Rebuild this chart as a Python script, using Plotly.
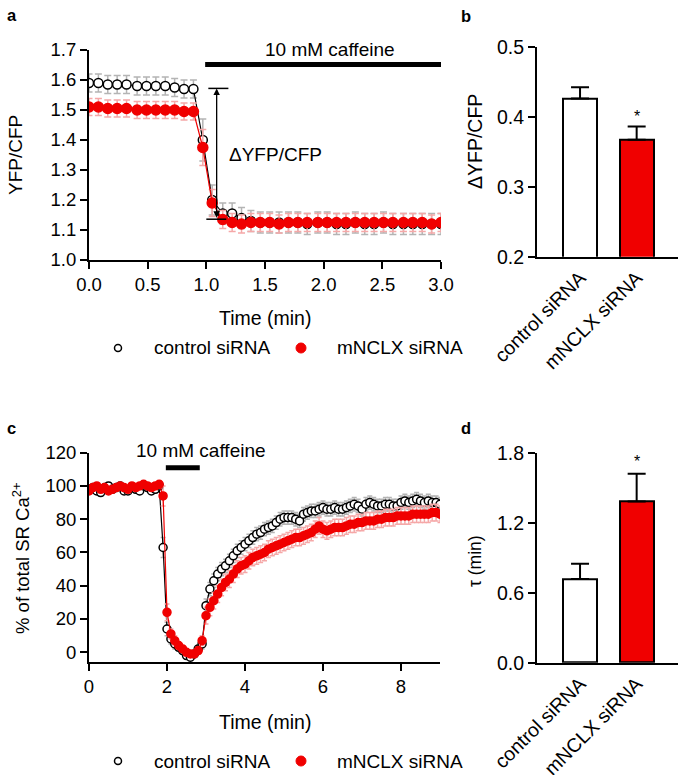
import plotly.graph_objects as go

W, H = 685, 775
FONT = "Arial, Liberation Sans, sans-serif"
RED = "#f00000"
GRAY_ERR = "#b4b4b4"
PINK_ERR = "#f5a8a8"

# ---------------- data: panel a ----------------
time_a = [0.00, 0.08, 0.16, 0.24, 0.32, 0.41, 0.49, 0.57, 0.65, 0.73, 0.81, 0.89,
          0.97, 1.05, 1.14, 1.22, 1.30, 1.38, 1.46, 1.54, 1.62, 1.70, 1.78, 1.86,
          1.95, 2.03, 2.11, 2.19, 2.27, 2.35, 2.43, 2.51, 2.59, 2.68, 2.76, 2.84,
          2.92, 3.00]
ctrl_a = [1.59, 1.59, 1.585, 1.585, 1.585, 1.58, 1.58, 1.58, 1.58, 1.575, 1.57, 1.57,
          1.40, 1.20, 1.155, 1.155, 1.14, 1.13, 1.125, 1.125, 1.125, 1.125, 1.125, 1.12,
          1.125, 1.125, 1.12, 1.12, 1.125, 1.12, 1.12, 1.125, 1.12, 1.12, 1.12, 1.12,
          1.12, 1.12]
ctrl_a_err = [0.03, 0.03, 0.03, 0.03, 0.03, 0.03, 0.03, 0.03, 0.03, 0.03, 0.03, 0.03,
              0.07, 0.05, 0.035, 0.035, 0.035, 0.035, 0.035, 0.035, 0.035, 0.035, 0.035, 0.035,
              0.035, 0.035, 0.035, 0.035, 0.035, 0.035, 0.035, 0.035, 0.035, 0.035, 0.035, 0.035,
              0.035, 0.035]
mnclx_a = [1.51, 1.51, 1.505, 1.505, 1.505, 1.50, 1.50, 1.50, 1.50, 1.50, 1.495, 1.495,
           1.375, 1.19, 1.135, 1.125, 1.12, 1.125, 1.125, 1.125, 1.12, 1.125, 1.125, 1.125,
           1.125, 1.125, 1.125, 1.125, 1.125, 1.125, 1.125, 1.125, 1.125, 1.125, 1.125, 1.125,
           1.12, 1.125]
mnclx_a_err = [0.028, 0.028, 0.028, 0.028, 0.028, 0.028, 0.028, 0.028, 0.028, 0.028, 0.028, 0.028,
               0.06, 0.045, 0.03, 0.03, 0.03, 0.03, 0.03, 0.03, 0.03, 0.03, 0.03, 0.03,
               0.03, 0.03, 0.03, 0.03, 0.03, 0.03, 0.03, 0.03, 0.03, 0.03, 0.03, 0.03,
               0.03, 0.03]

# ---------------- data: panel b ----------------
groups = ["control siRNA", "mNCLX siRNA"]
delta_mean = [0.426, 0.367]
delta_sem = [0.016, 0.019]

# ---------------- data: panel c ----------------
time_c = [0.0, 0.1, 0.2, 0.3, 0.4, 0.5, 0.6, 0.7, 0.8, 0.9,
          1.0, 1.1, 1.2, 1.3, 1.4, 1.5, 1.6, 1.7, 1.8, 1.9,
          2.0, 2.1, 2.2, 2.3, 2.4, 2.5, 2.6, 2.7, 2.8, 2.9,
          3.0, 3.1, 3.2, 3.3, 3.4, 3.5, 3.6, 3.7, 3.8, 3.9,
          4.0, 4.1, 4.2, 4.3, 4.4, 4.5, 4.6, 4.7, 4.8, 4.9,
          5.0, 5.1, 5.2, 5.3, 5.4, 5.5, 5.6, 5.7, 5.8, 5.9,
          6.0, 6.1, 6.2, 6.3, 6.4, 6.5, 6.6, 6.7, 6.8, 6.9,
          7.0, 7.1, 7.2, 7.3, 7.4, 7.5, 7.6, 7.7, 7.8, 7.9,
          8.0, 8.1, 8.2, 8.3, 8.4, 8.5, 8.6, 8.7, 8.8, 8.9,
          9.0]
ctrl_c = [98, 99, 97, 96, 99, 100, 98, 99, 100, 97,
          97, 99, 98, 97, 100, 99, 97, 98, 100, 63,
          14, 8, 5, 3, 1, -2, -3, -1, 2, 5,
          28, 38, 43, 47, 50, 52, 55, 58, 61, 63,
          65, 67, 69, 71, 72, 74, 75, 76, 78, 80,
          81, 81, 81, 80, 79, 83, 84, 85, 85, 86,
          87, 86, 86, 87, 86, 86, 87, 88, 89, 88,
          86, 89, 90, 89, 88, 88, 89, 89, 88, 88,
          90, 91, 90, 91, 92, 91, 90, 91, 90, 90,
          89]
ctrl_c_err = [2, 2, 2, 2, 2, 2, 2, 2, 2, 2,
              2, 2, 2, 2, 2, 2, 2, 2, 2, 6,
              4, 3, 3, 2, 2, 2, 2, 2, 2, 3,
              4, 4, 4, 4, 4, 4, 4, 4, 4, 4,
              4, 4, 4, 4, 4, 4, 4, 4, 4, 4,
              4, 4, 4, 4, 4, 4, 4, 4, 4, 4,
              4, 4, 4, 4, 4, 4, 4, 4, 4, 4,
              4, 4, 4, 4, 4, 4, 4, 4, 4, 4,
              4, 4, 4, 4, 4, 4, 4, 4, 4, 4,
              4]
mnclx_c = [97, 99, 100, 98, 99, 97, 98, 99, 100, 99,
           98, 100, 99, 100, 101, 100, 99, 100, 101, 94,
           24, 11, 7, 4, 2, 0, -1, -1, 1, 7,
           22, 27, 31, 35, 39, 42, 44, 47, 50, 52,
           53, 55, 57, 58, 59, 60, 62, 63, 64, 65,
           66, 67, 68, 69, 69, 70, 71, 72, 74, 76,
           74, 73, 74, 75, 75, 75, 76, 77, 77, 78,
           78, 79, 79, 79, 80, 80, 81, 81, 81, 82,
           82, 82, 82, 83, 83, 83, 83, 83, 84, 84,
           83]
mnclx_c_err = [2, 2, 2, 2, 2, 2, 2, 2, 2, 2,
               2, 2, 2, 2, 2, 2, 2, 2, 2, 6,
               5, 3, 3, 2, 2, 2, 2, 2, 2, 3,
               5, 5, 5, 5, 5, 5, 5, 5, 5, 5,
               5, 5, 5, 5, 5, 5, 5, 5, 5, 5,
               5, 5, 5, 5, 5, 5, 5, 5, 5, 5,
               5, 5, 5, 5, 5, 5, 5, 5, 5, 5,
               5, 5, 5, 5, 5, 5, 5, 5, 5, 5,
               5, 5, 5, 5, 5, 5, 5, 5, 5, 5,
               5]

# ---------------- data: panel d ----------------
tau_mean = [0.72, 1.385]
tau_sem = [0.13, 0.24]

bar_pos = [1, 2]

# ---------------- helpers (layout only) ----------------
def px(x):
    return x / W

def py(y):
    return 1 - y / H

fig = go.Figure()

def series(x, y, err, name, filled, xa, ya, msize, errcolor, cap):
    fig.add_trace(go.Scatter(
        x=x, y=y, mode="lines+markers", name=name, showlegend=False,
        xaxis=xa, yaxis=ya,
        line=dict(color=RED if filled else "black", width=1.2),
        marker=dict(size=msize, color=RED if filled else "white",
                    line=dict(color=RED if filled else "black", width=1.5)),
        error_y=dict(type="data", array=err, visible=True, color=errcolor,
                     thickness=1.5, width=cap),
    ))

# panel a
series(time_a, ctrl_a, ctrl_a_err, "control siRNA", False, "x", "y", 9, GRAY_ERR, 3.5)
series(time_a, mnclx_a, mnclx_a_err, "mNCLX siRNA", True, "x", "y", 10, PINK_ERR, 3.5)
# panel c
series(time_c, ctrl_c, ctrl_c_err, "control siRNA", False, "x3", "y3", 8, GRAY_ERR, 2.5)
series(time_c, mnclx_c, mnclx_c_err, "mNCLX siRNA", True, "x3", "y3", 8, PINK_ERR, 2.5)

# bars b and d
for xa, ya, vals, errs in (("x2", "y2", delta_mean, delta_sem), ("x4", "y4", tau_mean, tau_sem)):
    fig.add_trace(go.Bar(
        x=bar_pos, y=vals, xaxis=xa, yaxis=ya, width=0.6, showlegend=False,
        marker=dict(color=["white", RED], line=dict(color="black", width=2)),
        error_y=dict(type="data", array=errs, arrayminus=[0, 0], symmetric=False,
                     color="black", thickness=2, width=9),
    ))

TICK = dict(size=18.5, color="black", family=FONT)
TICKB = dict(size=19.5, color="black", family=FONT)
axis_common = dict(showline=True, linecolor="black", linewidth=2, ticks="outside",
                   ticklen=7, tickwidth=2, tickcolor="black", showgrid=False,
                   zeroline=False, automargin=False, tickfont=TICK)

fig.update_layout(
    template="none",
    width=W, height=H, margin=dict(l=0, r=0, t=0, b=0, autoexpand=False),
    paper_bgcolor="white", plot_bgcolor="white",
    font=dict(family=FONT, color="black", size=19),
    showlegend=False,
    bargap=0,
    xaxis=dict(axis_common, domain=[px(89), px(441)], range=[0, 3.0], dtick=0.5,
               tickformat=".1f", anchor="y"),
    yaxis=dict(axis_common, domain=[py(260), py(50)], range=[1.0, 1.7], dtick=0.1,
               tickformat=".1f", anchor="x"),
    xaxis2=dict(axis_common, domain=[px(537), px(678)], range=[0.24, 2.73],
                tickvals=bar_pos, ticktext=groups, ticks="", tickangle=-45,
                tickfont=TICKB, anchor="y2"),
    yaxis2=dict(axis_common, domain=[py(256.7), py(46.7)], range=[0.2, 0.5], dtick=0.1,
                tickformat=".1f", tickfont=TICKB, anchor="x2"),
    xaxis3=dict(axis_common, domain=[px(89), px(440)], range=[0, 9.0], dtick=2,
                anchor="y3"),
    yaxis3=dict(axis_common, domain=[py(662), py(452.7)], range=[-5.85, 120], dtick=20,
                anchor="x3"),
    xaxis4=dict(axis_common, domain=[px(537), px(678)], range=[0.24, 2.73],
                tickvals=bar_pos, ticktext=groups, ticks="", tickangle=-45,
                tickfont=TICKB, anchor="y4"),
    yaxis4=dict(axis_common, domain=[py(662.7), py(453.3)], range=[0, 1.8], dtick=0.6,
                tickformat=".1f", tickfont=TICKB, anchor="x4"),
)

shapes = []
ann = []

# panel a decorations
shapes.append(dict(type="line", xref="x", yref="y", x0=0.99, x1=3.02, y0=1.652, y1=1.652,
                   line=dict(color="black", width=5)))
ann.append(dict(xref="x", yref="y domain", x=2.05, y=1.0, yanchor="middle",
                text="10 mM caffeine", showarrow=False, font=dict(size=19)))
shapes.append(dict(type="line", xref="x", yref="y", x0=1.017, x1=1.188, y0=1.572, y1=1.572,
                   line=dict(color="black", width=1.5)))
shapes.append(dict(type="line", xref="x", yref="y", x0=1.0, x1=1.17, y0=1.136, y1=1.136,
                   line=dict(color="black", width=1.5)))
ann.append(dict(xref="x", yref="y", x=1.088, y=1.572, ax=1.088, ay=1.136, axref="x", ayref="y",
                text="", showarrow=True, arrowhead=2, startarrowhead=2, arrowside="end+start",
                arrowsize=1, arrowwidth=1.3, arrowcolor="black"))
ann.append(dict(xref="x", yref="y", x=1.18, y=1.35, text="\u0394YFP/CFP", showarrow=False,
                xanchor="left", yanchor="middle", font=dict(size=19)))

# panel c decorations
shapes.append(dict(type="line", xref="x3", yref="y3", x0=1.97, x1=2.84, y0=111, y1=111,
                   line=dict(color="black", width=5)))
ann.append(dict(xref="x3", yref="y3 domain", x=2.86, y=1.01, yanchor="middle",
                text="10 mM caffeine", showarrow=False, font=dict(size=19)))

# asterisks
ann.append(dict(xref="x2", yref="y2", x=2, y=0.40, text="*", showarrow=False, font=dict(size=16)))
ann.append(dict(xref="x4", yref="y4", x=2, y=1.728, text="*", showarrow=False, font=dict(size=16)))

# axis titles
def title(x, y, text, size, angle=0):
    ann.append(dict(xref="paper", yref="paper", x=px(x), y=py(y), text=text, showarrow=False,
                    textangle=angle, font=dict(size=size), xanchor="center", yanchor="middle"))

title(16, 155, "YFP/CFP", 19, -90)
title(265, 318, "Time (min)", 19.5)
title(475, 142, "\u0394YFP/CFP", 19.5, -90)
title(21, 558, "% of total SR Ca<sup>2+</sup>", 18.5, -90)
title(265, 722, "Time (min)", 19.5)
title(475, 561, "\u03c4 (min)", 17.5, -90)

# panel letters
for lx, ly, t in ((12, 15, "a"), (466, 16, "b"), (11, 428, "c"), (466, 428, "d")):
    ann.append(dict(xref="paper", yref="paper", x=px(lx), y=py(ly), text="<b>%s</b>" % t,
                    showarrow=False, font=dict(size=16.5), xanchor="center", yanchor="middle"))

# legends (drawn as shapes + text)
for ly in (348, 761):
    shapes.append(dict(type="circle", xref="paper", yref="paper", xsizemode="pixel",
                       ysizemode="pixel", xanchor=px(118), yanchor=py(ly),
                       x0=-3.5, x1=3.5, y0=-3.5, y1=3.5,
                       line=dict(color="black", width=1.5), fillcolor="white"))
    ann.append(dict(xref="paper", yref="paper", x=px(152), y=py(ly), text="control siRNA",
                    showarrow=False, xanchor="left", yanchor="middle", font=dict(size=19)))
    shapes.append(dict(type="circle", xref="paper", yref="paper", xsizemode="pixel",
                       ysizemode="pixel", xanchor=px(301), yanchor=py(ly),
                       x0=-5, x1=5, y0=-5, y1=5,
                       line=dict(color=RED, width=1), fillcolor=RED))
    ann.append(dict(xref="paper", yref="paper", x=px(335), y=py(ly), text="mNCLX siRNA",
                    showarrow=False, xanchor="left", yanchor="middle", font=dict(size=19)))

fig.update_layout(shapes=shapes, annotations=ann)

fig.write_html("out.html", config={"displayModeBar": False},
               post_script="document.body.style.margin='0px';")
